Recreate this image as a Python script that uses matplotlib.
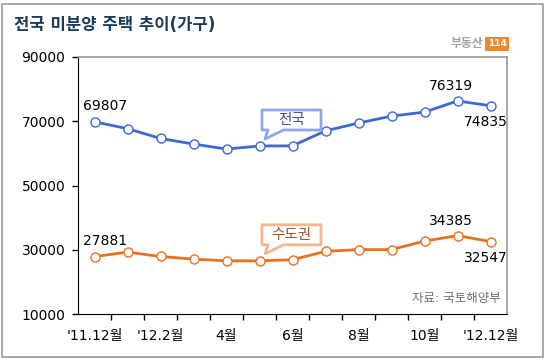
import numpy as np
import matplotlib.pyplot as plt
from matplotlib.patches import Polygon, Rectangle

# digits in DejaVu (wide, like the original), hangul falls back to Noto CJK
plt.rcParams['font.family'] = ['DejaVu Sans', 'Noto Sans CJK KR']

# data
months = ["'11.12월", "1월", "'12.2월", "3월", "4월", "5월", "6월",
          "7월", "8월", "9월", "10월", "11월", "'12.12월"]
jeonguk = [69807, 67700, 64650, 62900, 61350, 62300, 62350,
           67000, 69450, 71600, 72850, 76319, 74835]
sudogwon = [27881, 29250, 27900, 27100, 26550, 26550, 26900,
            29500, 30050, 30050, 32700, 34385, 32547]
shown_labels = [0, 2, 4, 6, 8, 10, 12]

blue = '#3d68d6'
orange = '#e8711f'

W, H = 546, 361
fig = plt.figure(figsize=(W / 100, H / 100), dpi=100)
fig.patch.set_facecolor('white')

# outer frame
fig.patches.append(Rectangle((2 / W, 4 / H), 541 / W, 353 / H, transform=fig.transFigure,
                             fill=False, edgecolor='#9a9a9a', linewidth=1.2))

ax = fig.add_axes([78 / W, 47 / H, 429 / W, 257 / H])
x = np.arange(len(months))

ax.plot(x, jeonguk, color=blue, lw=2, marker='o', ms=6.5, mfc='white', mec=blue, mew=1, zorder=3)
ax.plot(x, sudogwon, color=orange, lw=2, marker='o', ms=6.5, mfc='white', mec=orange, mew=1, zorder=3)

ax.set_xlim(-0.5, len(months) - 0.5)
ax.set_ylim(10000, 90000)
ax.set_yticks([10000, 30000, 50000, 70000, 90000])
ax.tick_params(axis='y', length=4, width=1, pad=5, labelsize=10)

ax.set_xticks(shown_labels)
ax.set_xticklabels([months[i] for i in shown_labels])
ax.tick_params(axis='x', which='major', length=0, pad=11, labelsize=10)
ax.set_xticks(np.arange(0.5, len(months) - 1, 1), minor=True)
ax.tick_params(axis='x', which='minor', length=4, width=1, direction='out')

ax.spines['top'].set_color('#9a9a9a')
ax.spines['right'].set_color('#9a9a9a')
ax.spines['top'].set_linewidth(1.2)
ax.spines['right'].set_linewidth(1.2)

# value labels
fs = 10
ax.annotate(str(jeonguk[0]), (0, jeonguk[0]), xytext=(-12, 9), textcoords='offset pixels',
            ha='left', va='bottom', fontsize=fs)
ax.annotate(str(jeonguk[11]), (11, jeonguk[11]), xytext=(-7, 8), textcoords='offset pixels',
            ha='center', va='bottom', fontsize=fs)
ax.annotate(str(jeonguk[12]), (12, jeonguk[12]), xytext=(-27, -9), textcoords='offset pixels',
            ha='left', va='top', fontsize=fs)
ax.annotate(str(sudogwon[0]), (0, sudogwon[0]), xytext=(-12, 9), textcoords='offset pixels',
            ha='left', va='bottom', fontsize=fs)
ax.annotate(str(sudogwon[11]), (11, sudogwon[11]), xytext=(-7, 8), textcoords='offset pixels',
            ha='center', va='bottom', fontsize=fs)
ax.annotate(str(sudogwon[12]), (12, sudogwon[12]), xytext=(-27, -9), textcoords='offset pixels',
            ha='left', va='top', fontsize=fs)


def callout(i, vals, text, edge, tcolor):
    px, py = ax.transData.transform((i, vals[i]))
    left, right = px + 2.5, px + 61.5
    bot, top = py + 16, py + 36
    verts = [(left, bot), (px + 8.5, bot), (px + 5.5, py + 7), (px + 24, bot),
             (right, bot), (right, top), (left, top)]
    poly = Polygon(verts, closed=True, transform=None, facecolor='white',
                   edgecolor=edge, linewidth=2, joinstyle='round', zorder=5)
    fig.patches.append(poly)
    fig.text((left + right) / 2 / W, (bot + top) / 2 / H, text, ha='center', va='center',
             fontsize=10.5, color=tcolor, zorder=6)


callout(5, jeonguk, '전국', '#8fa6ee', '#44568a')
callout(5, sudogwon, '수도권', '#f2b690', '#a0552a')

ax.text(0.985, 0.06, '자료: 국토해양부', transform=ax.transAxes, ha='right', va='center',
        fontsize=9, color='#6e6e6e')

fig.text(14 / W, 1 - 25 / H, '전국 미분양 주택 추이(가구)', ha='left', va='center',
         fontsize=12, fontweight='bold', color='#1c3a5c')

# logo
fig.text(483 / W, 1 - 44 / H, '부동산', ha='right', va='center', fontsize=8.5,
         fontweight='bold', color='#a0a0a0')
fig.text(497 / W, 1 - 44 / H, '114', ha='center', va='center', fontsize=6.5,
         fontweight='bold', color='white',
         bbox=dict(boxstyle='square,pad=0.25', facecolor='#e8892c', edgecolor='none'))

fig.savefig('out.png', dpi=100)
